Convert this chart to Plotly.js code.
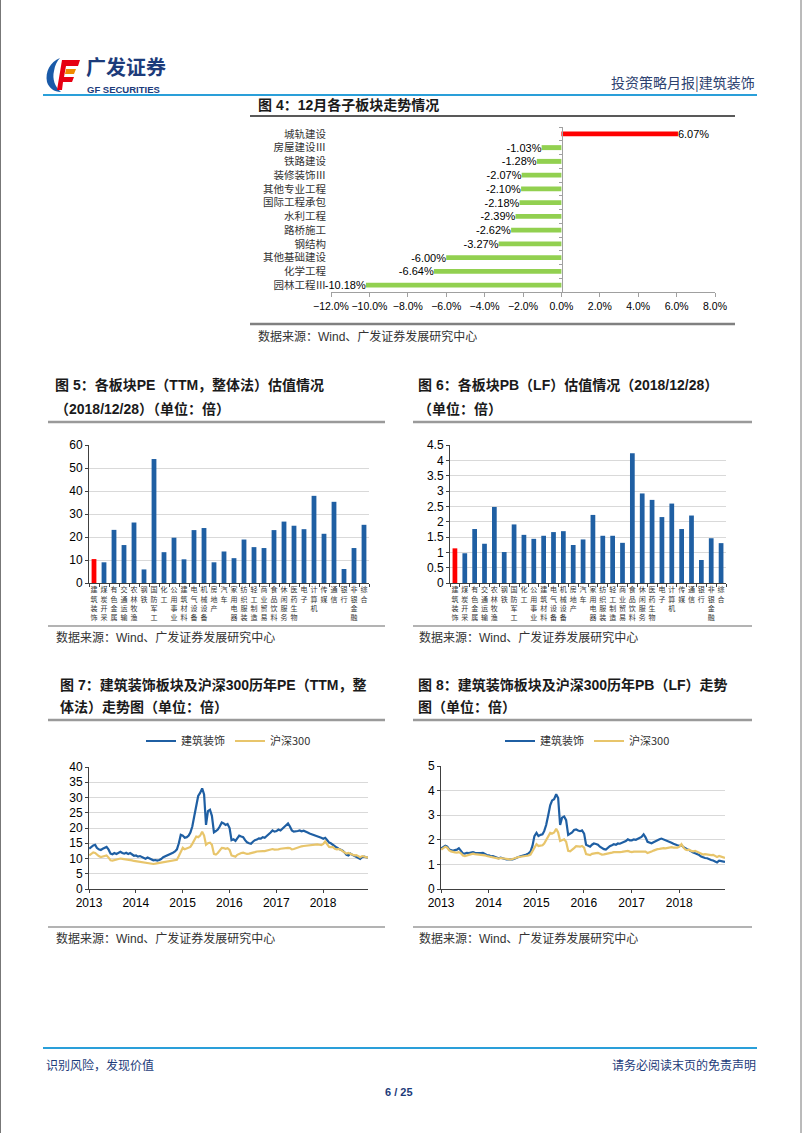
<!DOCTYPE html>
<html><head><meta charset="utf-8">
<script src="https://cdn.plot.ly/plotly-3.0.1.min.js"></script>
<style>html,body{margin:0;padding:0;background:#fff;}#page{width:802px;height:1133px;}</style>
</head><body><div id="page"></div>
<script>
// ---------- DATA ----------
const subSectors = ['城轨建设','房屋建设Ⅲ','铁路建设','装修装饰Ⅲ','其他专业工程','国际工程承包','水利工程','路桥施工','钢结构','其他基础建设','化学工程','园林工程Ⅲ'];
const monthlyChange = [6.07,-1.03,-1.28,-2.07,-2.10,-2.18,-2.39,-2.62,-3.27,-6.00,-6.64,-10.18];

const industries = ['建筑装饰','煤炭开采','有色金属','交通运输','农林牧渔','钢铁','国防军工','化工','公用事业','建筑材料','电气设备','机械设备','房地产','汽车','家用电器','纺织服装','轻工制造','商业贸易','食品饮料','休闲服务','医药生物','电子','计算机','传媒','通信','银行','非银金融','综合'];
const peTTM = [10.4,9.0,23.1,16.5,26.3,5.9,53.9,13.4,19.7,10.3,23.0,23.9,9.0,13.7,10.8,18.9,15.6,15.2,23.0,26.7,24.9,23.4,37.9,21.4,35.3,6.1,15.2,25.3];
const pbLF = [1.13,0.97,1.76,1.28,2.48,1.01,1.91,1.57,1.44,1.54,1.66,1.69,1.24,1.42,2.22,1.54,1.54,1.31,4.23,2.92,2.71,2.15,2.59,1.76,2.20,0.75,1.46,1.30];

const seriesNames = ['建筑装饰','沪深300'];
const yearTicks = ['2013','2014','2015','2016','2017','2018'];
// observation dates: twice a month, 2013-01 .. 2018-12
const obsDates = [];
for (const yr of yearTicks) for (let m = 1; m <= 12; m++) for (const d of ['03','18']) obsDates.push(yr + '-' + String(m).padStart(2,'0') + '-' + d);

const peConstruction = [
 13.2,13.8,14.3,14.5,13.5,13.0,12.8,13.2,13.4,13.8,12.9,11.6,11.4,11.8,11.5,11.9,12.2,11.8,11.6,11.9,11.5,11.8,11.3,10.9,
 11.0,10.6,10.8,10.5,10.1,9.9,10.3,10.0,9.6,9.4,9.5,9.3,9.5,9.8,10.4,10.7,11.0,11.3,11.4,11.9,12.3,13.0,15.0,17.8,
 17.5,16.8,17.0,17.5,18.5,20.5,24.0,28.0,30.5,31.5,33.0,31.0,21.0,25.5,26.0,24.0,18.6,19.0,19.5,20.5,21.8,21.5,21.0,21.3,
 20.0,16.0,16.3,15.8,16.8,17.5,17.2,17.0,16.0,15.3,15.0,14.8,15.5,16.0,16.2,16.6,16.5,17.0,16.8,17.3,17.8,18.5,19.2,18.8,
 19.0,19.5,19.2,19.8,20.2,20.8,21.5,20.5,19.2,18.8,18.8,19.0,19.2,18.9,19.1,18.7,18.5,18.2,18.0,17.8,17.5,17.3,17.0,16.8,
 16.5,16.8,16.0,15.2,15.0,14.5,13.8,13.6,13.2,13.0,12.6,12.0,11.2,11.0,11.6,11.2,10.8,10.6,10.2,9.9,10.5,10.6,10.4,10.3];
const peCSI300 = [
 11.0,11.5,12.0,11.8,11.2,10.8,10.5,10.7,10.8,11.0,10.3,9.4,9.3,9.5,9.6,9.7,10.0,9.9,9.8,9.9,9.6,9.7,9.4,9.2,
 9.1,8.9,9.0,8.8,8.6,8.5,8.6,8.5,8.3,8.2,8.3,8.4,8.5,8.6,8.9,9.0,9.1,9.2,9.1,9.3,9.4,9.6,10.8,12.2,
 13.5,13.0,13.2,13.4,13.8,14.8,16.0,17.2,17.0,17.5,18.8,17.5,14.5,15.0,15.2,14.5,11.5,11.3,11.8,12.6,13.5,13.4,13.2,13.4,
 12.8,11.0,10.8,10.6,11.2,11.6,11.8,11.9,11.6,11.5,11.6,11.7,11.9,12.1,12.3,12.4,12.3,12.4,12.4,12.6,12.8,13.0,13.1,12.9,
 12.9,13.0,13.2,13.3,13.4,13.5,13.5,13.4,13.0,13.1,13.4,13.6,13.8,14.0,14.1,14.2,14.3,14.2,14.4,14.6,14.7,14.6,14.5,14.4,
 14.8,15.6,14.6,13.8,13.7,13.8,13.2,13.0,13.1,12.9,12.4,11.9,11.6,11.8,11.5,11.2,11.0,11.1,10.8,10.4,10.8,10.7,10.5,10.3];
const pbConstruction = [
 1.65,1.70,1.76,1.72,1.62,1.58,1.55,1.58,1.60,1.66,1.55,1.45,1.44,1.47,1.46,1.48,1.50,1.47,1.46,1.48,1.46,1.47,1.42,1.38,
 1.37,1.33,1.34,1.31,1.27,1.25,1.27,1.25,1.22,1.20,1.21,1.19,1.20,1.23,1.28,1.30,1.33,1.35,1.36,1.40,1.45,1.52,1.75,2.15,
 2.28,2.15,2.20,2.22,2.35,2.60,3.00,3.40,3.60,3.65,3.85,3.70,2.60,2.90,2.95,2.80,2.20,2.25,2.30,2.40,2.42,2.38,2.35,2.38,
 2.25,1.80,1.75,1.72,1.80,1.85,1.83,1.80,1.72,1.66,1.62,1.60,1.68,1.74,1.78,1.82,1.80,1.85,1.84,1.87,1.90,1.95,2.02,1.98,
 1.98,2.02,2.00,2.05,2.08,2.12,2.22,2.10,1.92,1.88,1.86,1.90,1.95,1.98,2.02,2.05,2.02,1.98,1.96,1.93,1.88,1.84,1.80,1.78,
 1.76,1.78,1.70,1.64,1.62,1.58,1.52,1.48,1.45,1.42,1.38,1.32,1.28,1.26,1.25,1.20,1.18,1.16,1.12,1.08,1.15,1.14,1.12,1.10];
const pbCSI300 = [
 1.60,1.66,1.72,1.68,1.58,1.53,1.50,1.49,1.48,1.50,1.45,1.36,1.34,1.36,1.38,1.40,1.44,1.42,1.41,1.42,1.40,1.40,1.37,1.34,
 1.32,1.30,1.31,1.28,1.26,1.24,1.26,1.25,1.22,1.20,1.21,1.20,1.22,1.25,1.28,1.30,1.31,1.32,1.32,1.34,1.36,1.40,1.55,1.72,
 1.82,1.75,1.76,1.78,1.85,1.98,2.12,2.28,2.25,2.30,2.45,2.30,1.95,2.00,2.02,1.92,1.55,1.53,1.58,1.66,1.74,1.73,1.72,1.75,
 1.68,1.42,1.40,1.38,1.43,1.46,1.46,1.47,1.42,1.40,1.41,1.42,1.44,1.46,1.48,1.50,1.49,1.50,1.50,1.51,1.53,1.55,1.55,1.52,
 1.50,1.52,1.52,1.53,1.53,1.54,1.54,1.52,1.46,1.48,1.52,1.56,1.60,1.62,1.63,1.65,1.66,1.65,1.67,1.70,1.70,1.68,1.67,1.68,
 1.72,1.82,1.68,1.60,1.58,1.60,1.55,1.53,1.55,1.52,1.47,1.43,1.40,1.42,1.40,1.38,1.38,1.39,1.35,1.30,1.34,1.32,1.29,1.26];

// ---------- STYLE ----------
const W = 802, H = 1133;
const px = x => x / W, py = y => 1 - y / H;
const RED = '#ff0000', GREEN = '#92d050', BLUE = '#1f5fa3', GOLD = '#e8c56b', NAVY = '#1c3b7a';
const FONT = 'Arial, "Liberation Sans", "Noto Sans CJK SC", sans-serif';
const CJK = '"Noto Sans CJK SC", sans-serif';
const stack = s => s.split('').join('<br>');

const traces = [
  {type:'bar', orientation:'h', x: monthlyChange, y: subSectors, xaxis:'x', yaxis:'y', width:0.36,
   marker:{color: monthlyChange.map(v => v > 0 ? RED : GREEN)},
   texttemplate:'%{x:.2f}%', textposition:'outside', constraintext:'none', cliponaxis:false,
   textfont:{family:FONT, size:11, color:'#000'}, showlegend:false, hoverinfo:'skip'},
  {type:'bar', x: industries, y: peTTM, xaxis:'x2', yaxis:'y2', width:0.48,
   marker:{color: industries.map((_, i) => i === 0 ? RED : BLUE)}, showlegend:false, hoverinfo:'skip'},
  {type:'bar', x: industries, y: pbLF, xaxis:'x3', yaxis:'y3', width:0.48,
   marker:{color: industries.map((_, i) => i === 0 ? RED : BLUE)}, showlegend:false, hoverinfo:'skip'},
  {type:'scatter', mode:'lines', name:seriesNames[0], x: obsDates, y: peConstruction, xaxis:'x4', yaxis:'y4', legend:'legend', line:{color:BLUE, width:2.2}},
  {type:'scatter', mode:'lines', name:seriesNames[1], x: obsDates, y: peCSI300, xaxis:'x4', yaxis:'y4', legend:'legend', line:{color:GOLD, width:2.2}},
  {type:'scatter', mode:'lines', name:seriesNames[0], x: obsDates, y: pbConstruction, xaxis:'x5', yaxis:'y5', legend:'legend2', line:{color:BLUE, width:2.2}},
  {type:'scatter', mode:'lines', name:seriesNames[1], x: obsDates, y: pbCSI300, xaxis:'x5', yaxis:'y5', legend:'legend2', line:{color:GOLD, width:2.2}}
];

const axBase = {showgrid:false, zeroline:false, showline:true, linecolor:'#404040', linewidth:1, ticks:'outside', ticklen:3, tickcolor:'#404040', tickfont:{family:FONT, size:12, color:'#000'}, fixedrange:true};
const catX = (dom, anchor) => Object.assign({}, axBase, {domain:dom, anchor:anchor, type:'category', tickvals:industries, ticktext:industries.map(stack), tickangle:0, tickson:'boundaries', tickfont:{family:CJK, size:7, color:'#333'}});
const valY = (dom, anchor, range, dtick) => Object.assign({}, axBase, {domain:dom, anchor:anchor, range:range, dtick:dtick, showgrid:true, gridcolor:'#d9d9d9', gridwidth:1});
const dateX = (dom, anchor) => Object.assign({}, axBase, {domain:dom, anchor:anchor, type:'date', range:['2013-01-01','2018-12-18'], dtick:'M12', tick0:'2013-01-01', tickformat:'%Y'});

const ann = (text, x, y, size, o) => Object.assign({text:text, x:px(x), y:py(y), xref:'paper', yref:'paper', showarrow:false, xanchor:'left', yanchor:'middle', font:{family:FONT, size:size, color:'#1a1a1a'}}, o || {});
const hl = (x0, x1, y, color, w) => ({type:'line', xref:'paper', yref:'paper', x0:px(x0), x1:px(x1), y0:py(y), y1:py(y), line:{color:color, width:w}});
const vl = (x, y0, y1, color, w) => ({type:'line', xref:'paper', yref:'paper', x0:px(x), x1:px(x), y0:py(y0), y1:py(y1), line:{color:color, width:w}});

const bold = (s) => '<b>' + s + '</b>';
const src = '数据来源：Wind、广发证券发展研究中心';

const annotations = [
  ann(bold('广发证券'), 85, 67, 20, {borderpad:0, font:{family:CJK, size:20, color:NAVY}}),
  ann(bold('GF SECURITIES'), 86, 90, 9.5, {borderpad:0, font:{family:FONT, size:9.5, color:NAVY}}),
  ann('投资策略月报|建筑装饰', 757, 82, 14, {xanchor:'right', font:{family:CJK, size:14, color:'#2d426f'}}),
  ann(bold('图 4：12月各子板块走势情况'), 256, 105, 14),
  ann(src, 256, 336, 12, {font:{family:FONT, size:12, color:'#333'}}),
  ann(bold('图 5：各板块PE（TTM，整体法）估值情况'), 53, 385, 14),
  ann(bold('（2018/12/28）（单位：倍）'), 53, 409, 14),
  ann(bold('图 6：各板块PB（LF）估值情况（2018/12/28）'), 416, 385, 14),
  ann(bold('（单位：倍）'), 416, 409, 14),
  ann(src, 54, 637, 12, {font:{family:FONT, size:12, color:'#333'}}),
  ann(src, 417, 637, 12, {font:{family:FONT, size:12, color:'#333'}}),
  ann(bold('图 7：建筑装饰板块及沪深300历年PE（TTM，整'), 58, 685, 14),
  ann(bold('体法）走势图（单位：倍）'), 58, 707, 14),
  ann(bold('图 8：建筑装饰板块及沪深300历年PB（LF）走势'), 416, 685, 14),
  ann(bold('图（单位：倍）'), 416, 707, 14),
  ann(src, 54, 938, 12, {font:{family:FONT, size:12, color:'#333'}}),
  ann(src, 417, 938, 12, {font:{family:FONT, size:12, color:'#333'}}),
  ann('识别风险，发现价值', 44, 1064, 12, {font:{family:CJK, size:12, color:NAVY}}),
  ann('请务必阅读末页的免责声明', 758, 1064, 12, {xanchor:'right', font:{family:CJK, size:12, color:NAVY}}),
  ann(bold('6 / 25'), 399, 1092, 11, {xanchor:'center', font:{family:FONT, size:11, color:NAVY}})
];

const shapes = [
  vl(0.5, 0, H, '#777', 1), vl(801, 0, H, '#777', 1),
  hl(43, 757, 95, '#2a9fd9', 2),
  hl(250, 735, 116, '#222', 1.5),
  hl(250, 735, 324, '#808080', 2.5),
  hl(48, 385, 422, '#9a9a9a', 2.5), hl(413, 752, 422, '#9a9a9a', 2.5),
  hl(48, 385, 626, '#9a9a9a', 1.5), hl(413, 752, 626, '#9a9a9a', 1.5),
  hl(48, 385, 720, '#9a9a9a', 2.5), hl(413, 752, 720, '#9a9a9a', 2.5),
  hl(48, 385, 927, '#9a9a9a', 1.5), hl(413, 752, 927, '#9a9a9a', 1.5),
  hl(43, 757, 1048, '#2a9fd9', 2)
];

const logoSvg = "<svg xmlns='http://www.w3.org/2000/svg' width='36' height='36' viewBox='0 0 36 36'>" +
  "<path d='M15 1 C5 5 0 15 2 25 C4 31 9 35 16 35 C10 30 7 22 9 14 C10 8 12 4 15 1 Z' fill='#1a5aa8'/>" +
  "<path d='M17 3 L35 3 L33 9 L16 9 Z' fill='#e60012'/>" +
  "<path d='M16 9 L21 9 L19 20 L29 20 L27 25 L18 25 L17 33 L12 33 Z' fill='#e60012'/>" +
  "<path d='M21 12 L31 12 L29 17 L20 17 Z' fill='#f08a00'/></svg>";

const layout = {
  width:W, height:H, margin:{l:0, r:0, t:0, b:0}, paper_bgcolor:'#fff', plot_bgcolor:'rgba(0,0,0,0)',
  font:{family:FONT, size:11, color:'#000'},
  xaxis: Object.assign({}, axBase, {domain:[px(331), px(715)], anchor:'y', range:[-12, 8], dtick:2, tick0:0, tickformat:'.1f', ticksuffix:'%', tickangle:0, linecolor:'#a0a0a0', tickcolor:'#a0a0a0', ticklen:4, tickfont:{family:FONT, size:10.5, color:'#000'}}),
  yaxis: Object.assign({}, axBase, {domain:[py(292), py(127)], type:'category', autorange:'reversed', anchor:'free', position:px(562), linecolor:'#a0a0a0', tickcolor:'#a0a0a0', tickson:'boundaries', ticklen:3, ticklabelstandoff:234, tickfont:{family:CJK, size:10.5, color:'#333'}}),
  xaxis2: catX([px(89), px(369)], 'y2'),
  yaxis2: valY([py(583), py(445)], 'x2', [0, 60], 10),
  xaxis3: catX([px(450), px(726)], 'y3'),
  yaxis3: valY([py(583), py(445)], 'x3', [0, 4.5], 0.5),
  xaxis4: dateX([px(89), px(368)], 'y4'),
  yaxis4: valY([py(889), py(767)], 'x4', [0, 40], 5),
  xaxis5: dateX([px(441), px(725)], 'y5'),
  yaxis5: valY([py(889), py(766)], 'x5', [0, 5], 1),
  legend: {orientation:'h', x:px(141), y:py(741), xanchor:'left', yanchor:'middle', font:{family:CJK, size:11, color:'#333'}, bgcolor:'rgba(0,0,0,0)', itemwidth:30},
  legend2: {orientation:'h', x:px(500), y:py(741), xanchor:'left', yanchor:'middle', font:{family:CJK, size:11, color:'#333'}, bgcolor:'rgba(0,0,0,0)', itemwidth:30},
  annotations: annotations,
  shapes: shapes,
  images: [{source:'data:image/svg+xml;charset=utf-8,' + encodeURIComponent(logoSvg), xref:'paper', yref:'paper', x:px(45), y:py(57), sizex:36/W, sizey:36/H, sizing:'stretch', xanchor:'left', yanchor:'top', layer:'above'}]
};

Plotly.newPlot('page', traces, layout, {staticPlot:true, displayModeBar:false});
</script></body></html>
